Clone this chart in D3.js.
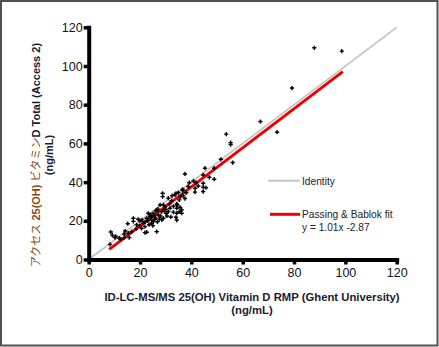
<!DOCTYPE html>
<html lang="ja">

<head>
    <meta charset="UTF-8">
    <title>Access 25(OH) Vitamin D Total vs ID-LC-MS/MS</title>
</head>
<style>
    * {
        margin: 0;
        padding: 0;
    }

    body {
        background: #fff;
    }

    text {
        font-family: "Liberation Sans", Arial, "Noto Sans CJK JP", sans-serif;
    }
</style>

<body>
    <svg></svg>
</body>

</html>
<script src="https://cdn.jsdelivr.net/npm/d3@7"></script>

<script>
    // 測定値 (x: ID-LC-MS/MS, y: Access)
    const refValues = [8.3, 8.6, 9.2, 10.2, 11.9, 13.9, 13.8, 14.2, 15.4, 16.7, 15.8, 15.2, 17.4, 17.4, 18.7, 18.4,
        19.3, 20.0, 20.6, 21.3, 21.9, 21.9, 22.6, 22.6, 23.2, 23.9, 24.5, 24.5, 24.5, 25.2, 25.2, 25.8, 26.2, 26.5,
        26.5, 27.1, 27.8, 28.4, 28.8, 28.8, 29.1, 29.1, 29.7, 30.1, 31.0, 31.7, 32.3, 33.6, 34.0, 34.3, 34.3, 34.3,
        34.3, 34.9, 35.3, 35.3, 35.8, 36.2, 36.2, 36.6, 36.6, 34.5, 35.6, 34.0, 37.5, 38.8, 39.2, 40.8, 41.5, 41.4,
        41.8, 42.7, 44.6, 44.6, 44.6, 44.6, 45.3, 45.7, 47.0, 48.9, 48.9, 51.5, 53.6, 55.3, 55.3, 56.1, 66.9, 73.4,
        79.2, 87.9, 98.6, 22.0, 23.0, 23.5, 24.0, 25.5, 26.0, 27.0, 27.5, 28.0, 28.5, 29.5, 30.5, 31.0, 32.0, 33.0,
        33.0, 30.0, 31.5, 32.5, 36.8, 38.0, 37.5, 19.8, 20.8, 26.8, 25.0, 12.5, 10.5]
    const accessValues = [7.8, 14.2, 12.6, 11.3, 11.0, 11.3, 13.1, 14.7, 13.6, 14.4, 11.3, 18.5, 19.7, 21.3, 17.9, 15.8,
        20.8, 19.9, 16.1, 18.7, 17.0, 13.9, 14.1, 21.3, 23.9, 22.1, 20.4, 22.1, 18.7, 23.9, 19.6, 20.8, 25.2, 25.6,
        14.4, 23.0, 28.2, 24.7, 34.2, 32.5, 21.3, 28.2, 27.3, 23.9, 31.7, 26.5, 30.4, 33.4, 34.2, 28.7, 26.5, 20.4,
        23.9, 34.6, 30.8, 24.7, 32.5, 23.9, 25.6, 35.6, 36.3, 28.2, 27.0, 21.8, 44.2, 37.7, 39.7, 40.6, 36.8, 34.8,
        39.7, 38.0, 39.4, 43.7, 37.4, 35.1, 47.2, 37.1, 42.5, 41.5, 47.2, 51.8, 64.8, 60.4, 59.4, 50.1, 71.3, 65.8,
        88.6, 109.4, 107.7, 19.5, 20.0, 18.0, 23.0, 22.5, 21.5, 26.0, 21.0, 22.5, 20.5, 25.5, 22.5, 24.8, 22.0, 27.5,
        24.5, 26.0, 28.8, 33.0, 33.0, 34.5, 31.5, 17.5, 20.5, 19.5, 17.5, 10.5, 12.0]

    // 目盛り
    const axisTicks = [0, 20, 40, 60, 80, 100, 120]

    // Passing & Bablok 回帰
    const fitSlope = 1.01
    const fitIntercept = -2.87
    const fitRange = [8, 99]

    // 単位線
    const identityRange = [0, 120]

    const svg = d3.select('svg').attr('width', 439).attr('height', 347)

    // 外枠
    svg.append('rect')
        .attr('x', 1).attr('y', 1)
        .attr('width', 436.5).attr('height', 344.5)
        .attr('fill', '#fff')
        .attr('stroke', '#505050')
        .attr('stroke-width', 2)

    const x = d3.scaleLinear().domain([0, 120]).range([88.7, 396.7])
    const y = d3.scaleLinear().domain([0, 120]).range([259.5, 27.3])

    // 単位線 (y = x)
    svg.append('line')
        .attr('x1', x(identityRange[0])).attr('y1', y(identityRange[0]))
        .attr('x2', x(identityRange[1])).attr('y2', y(identityRange[1]))
        .attr('stroke', '#c2c2c2')
        .attr('stroke-width', 1.6)

    // 回帰直線
    svg.append('line')
        .attr('x1', x(fitRange[0])).attr('y1', y(fitSlope * fitRange[0] + fitIntercept))
        .attr('x2', x(fitRange[1])).attr('y2', y(fitSlope * fitRange[1] + fitIntercept))
        .attr('stroke', '#ee0000')
        .attr('stroke-width', 3)

    // 散布点
    const points = refValues.map((v, i) => [v, accessValues[i]])
    const marker = d3.symbol().type(d3.symbolCross).size(10)
    svg.append('g').selectAll('path')
        .data(points)
        .join('path')
        .attr('transform', d => `translate(${x(d[0])},${y(d[1])})`)
        .attr('d', marker)
        .attr('fill', '#000')

    // 軸
    const xAxis = svg.append('g')
        .attr('transform', `translate(0,${y(0)})`)
        .call(d3.axisBottom(x).tickValues(axisTicks).tickSize(5).tickSizeOuter(0).tickPadding(4))
    const yAxis = svg.append('g')
        .attr('transform', `translate(${x(0)},0)`)
        .call(d3.axisLeft(y).tickValues(axisTicks).tickSize(5).tickSizeOuter(0).tickPadding(1))

    ;[xAxis, yAxis].forEach(g => {
        g.select('.domain').attr('stroke', '#000').attr('stroke-width', 4).attr('stroke-linecap', 'square')
        g.selectAll('.tick line').attr('stroke', '#000').attr('stroke-width', 3.5)
        g.selectAll('.tick text')
            .attr('fill', '#111')
            .style('font-size', '12.5px')
            .style('font-family', '"Liberation Sans", Arial, sans-serif')
    })

    // X 軸タイトル
    const xTitle = svg.append('text')
        .attr('text-anchor', 'middle')
        .attr('fill', '#1a1a33')
        .attr('font-weight', 'bold')
        .attr('font-size', '11.3px')
    xTitle.append('tspan').attr('x', 252).attr('y', 300.5)
        .text('ID-LC-MS/MS 25(OH) Vitamin D RMP (Ghent University)')
    xTitle.append('tspan').attr('x', 252).attr('y', 313.5).text('(ng/mL)')

    // Y 軸タイトル
    const yTitle = svg.append('g').attr('transform', 'translate(0,155) rotate(-90)')
    const yLine1 = yTitle.append('text')
        .attr('text-anchor', 'middle')
        .attr('y', 39.5)
        .attr('font-size', '11px')
        .attr('font-weight', 'bold')
    yLine1.append('tspan').attr('fill', '#8c4a14').attr('font-weight', 'normal').text('アクセス')
    yLine1.append('tspan').attr('fill', '#8c4a14').text(' 25(OH)')
    yLine1.append('tspan').attr('fill', '#8c4a14').attr('font-weight', 'normal').text(' ビタミン')
    yLine1.append('tspan').attr('fill', '#1a1a33').text('D Total (Access 2)')
    yTitle.append('text')
        .attr('text-anchor', 'middle')
        .attr('y', 53)
        .attr('font-size', '11px')
        .attr('font-weight', 'bold')
        .attr('fill', '#1a1a33')
        .text('(ng/mL)')

    // 凡例
    const legend = svg.append('g')
    legend.append('line')
        .attr('x1', 268).attr('x2', 300).attr('y1', 180.7).attr('y2', 180.7)
        .attr('stroke', '#c2c2c2').attr('stroke-width', 1.8)
    legend.append('text').attr('x', 302).attr('y', 184.5)
        .attr('font-size', '10.2px').attr('fill', '#222').text('Identity')
    legend.append('line')
        .attr('x1', 270).attr('x2', 300).attr('y1', 214.3).attr('y2', 214.3)
        .attr('stroke', '#ee0000').attr('stroke-width', 3)
    legend.append('text').attr('x', 302).attr('y', 218.3)
        .attr('font-size', '10.2px').attr('fill', '#222').text('Passing & Bablok fit')
    legend.append('text').attr('x', 302).attr('y', 231)
        .attr('font-size', '10.2px').attr('fill', '#222')
        .text(`y = ${fitSlope.toFixed(2)}x ${fitIntercept.toFixed(2)}`)
</script>
